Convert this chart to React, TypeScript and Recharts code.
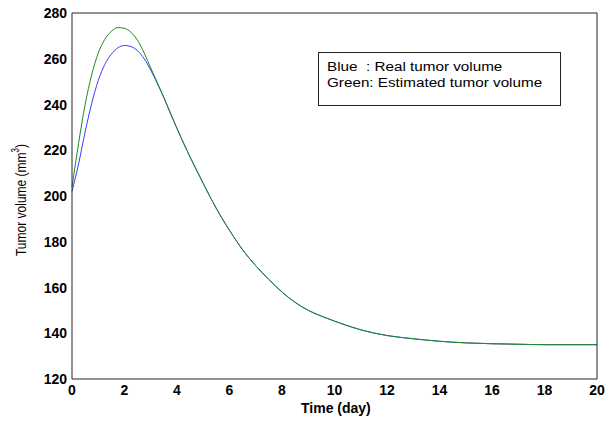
import { LineChart, Line, XAxis, YAxis } from 'recharts';

// ── Data ─────────────────────────────────────────────────────────────────────

const days = [
  0, 0.25, 0.5, 0.75, 1, 1.25, 1.5, 1.75, 2, 2.25, 2.5, 2.75, 3, 3.25, 3.5, 3.75, 4,
  4.5, 5, 5.5, 6, 6.5, 7, 7.5, 8, 8.5, 9, 9.5, 10, 11, 12, 13, 14, 15, 16, 17, 18, 19, 20,
];

const realVolume = [
  202, 214, 228, 240.5, 250.5, 257.5, 262, 264.8, 265.8, 265.3, 263.5, 260, 255, 249.2, 243, 236.3, 229.5,
  217, 205.5, 194.5, 185, 176.5, 169.5, 163.5, 158, 153.5, 150, 147.5, 145.3, 141.5, 139, 137.6, 136.5, 135.8, 135.4, 135.2, 135, 135, 135,
];

const estimatedVolume = [
  204, 223, 240, 253, 262.5, 268.5, 272, 273.6, 273.3, 271.5, 268, 262.5, 256, 249.5, 243, 236, 229.5,
  217, 205.5, 194.5, 185, 176.5, 169.5, 163.5, 158, 153.5, 150, 147.5, 145.3, 141.5, 139, 137.6, 136.5, 135.8, 135.4, 135.2, 135, 135, 135,
];

const xTicks = [0, 2, 4, 6, 8, 10, 12, 14, 16, 18, 20];
const yTicks = [120, 140, 160, 180, 200, 220, 240, 260, 280];

const data = days.map((t, i) => ({ t, real: realVolume[i], est: estimatedVolume[i] }));

// the legend text in the reference is stretched sideways a bit
const STRETCH = 1.27;
const AXIS = '#262626';
const FONT = '"Liberation Sans", Arial, sans-serif';

function XTick({ x, y, payload }: any) {
  return (
    <text x={x} y={y + 13} textAnchor="middle" fontFamily={FONT} fontWeight="bold" fontSize={14} fill="#000">
      {payload.value}
    </text>
  );
}

function YTick({ x, y, payload }: any) {
  return (
    <text x={x} y={y + 5} textAnchor="end" fontFamily={FONT} fontWeight="bold" fontSize={14} fill="#000">
      {payload.value}
    </text>
  );
}

const wide = (s: number): React.CSSProperties => ({
  display: 'inline-block',
  transform: `scaleX(${s})`,
  transformOrigin: 'left center',
  whiteSpace: 'pre',
});

// MATLAB style box: inward ticks on all four sides, drawn by mirrored axes
const xBox = { type: 'number' as const, domain: [0, 20], ticks: xTicks, allowDataOverflow: true, stroke: AXIS, tick: false, mirror: true, tickSize: 5 };
const yBox = { type: 'number' as const, domain: [120, 280], ticks: yTicks, allowDataOverflow: true, stroke: AXIS, tick: false, mirror: true, tickSize: 5 };

export default function App() {
  return (
    <div style={{ position: 'absolute', left: 0, top: 0, width: 608, height: 423, background: '#fff', fontFamily: FONT }}>
      <LineChart width={608} height={423} data={data} margin={{ top: 13, right: 11, bottom: 14, left: 10 }}>
        <XAxis
          dataKey="t"
          type="number"
          domain={[0, 20]}
          ticks={xTicks}
          height={30}
          tickLine={false}
          tickSize={0}
          tickMargin={3}
          stroke={AXIS}
          tick={<XTick />}
        />
        <XAxis xAxisId="bt" orientation="bottom" axisLine={false} {...xBox} />
        <XAxis xAxisId="top" orientation="top" {...xBox} />
        <YAxis
          type="number"
          domain={[120, 280]}
          ticks={yTicks}
          width={62}
          tickLine={false}
          tickSize={0}
          tickMargin={5}
          stroke={AXIS}
          tick={<YTick />}
        />
        <YAxis yAxisId="lt" orientation="left" axisLine={false} {...yBox} />
        <YAxis yAxisId="right" orientation="right" {...yBox} />
        <Line type="monotone" dataKey="real" stroke="#3a3aff" strokeWidth={1} dot={false} isAnimationActive={false} />
        <Line type="monotone" dataKey="est" stroke="#1e8c1e" strokeWidth={1} dot={false} isAnimationActive={false} />
      </LineChart>

      {/* legend box */}
      <div
        style={{
          position: 'absolute',
          left: 318,
          top: 52,
          width: 243,
          height: 54,
          border: '1px solid #222',
          background: '#fff',
          fontSize: 12,
          lineHeight: '16px',
          padding: '6px 0 0 8px',
          boxSizing: 'border-box',
          color: '#000',
        }}
      >
        <div><span style={wide(STRETCH)}>{'Blue  : Real tumor volume'}</span></div>
        <div><span style={wide(STRETCH)}>Green: Estimated tumor volume</span></div>
      </div>

      {/* axis titles */}
      <div style={{ position: 'absolute', left: 301, top: 400, fontSize: 14, fontWeight: 'bold', color: '#000', whiteSpace: 'nowrap' }}>
        Time (day)
      </div>
      <div
        style={{
          position: 'absolute',
          left: 20,
          top: 200,
          fontSize: 12,
          color: '#000',
          whiteSpace: 'nowrap',
          transform: `translate(-50%,-50%) rotate(-90deg) scaleY(${STRETCH})`,
        }}
      >
        Tumor volume (mm<sup style={{ fontSize: 8 }}>3</sup>)
      </div>
    </div>
  );
}
